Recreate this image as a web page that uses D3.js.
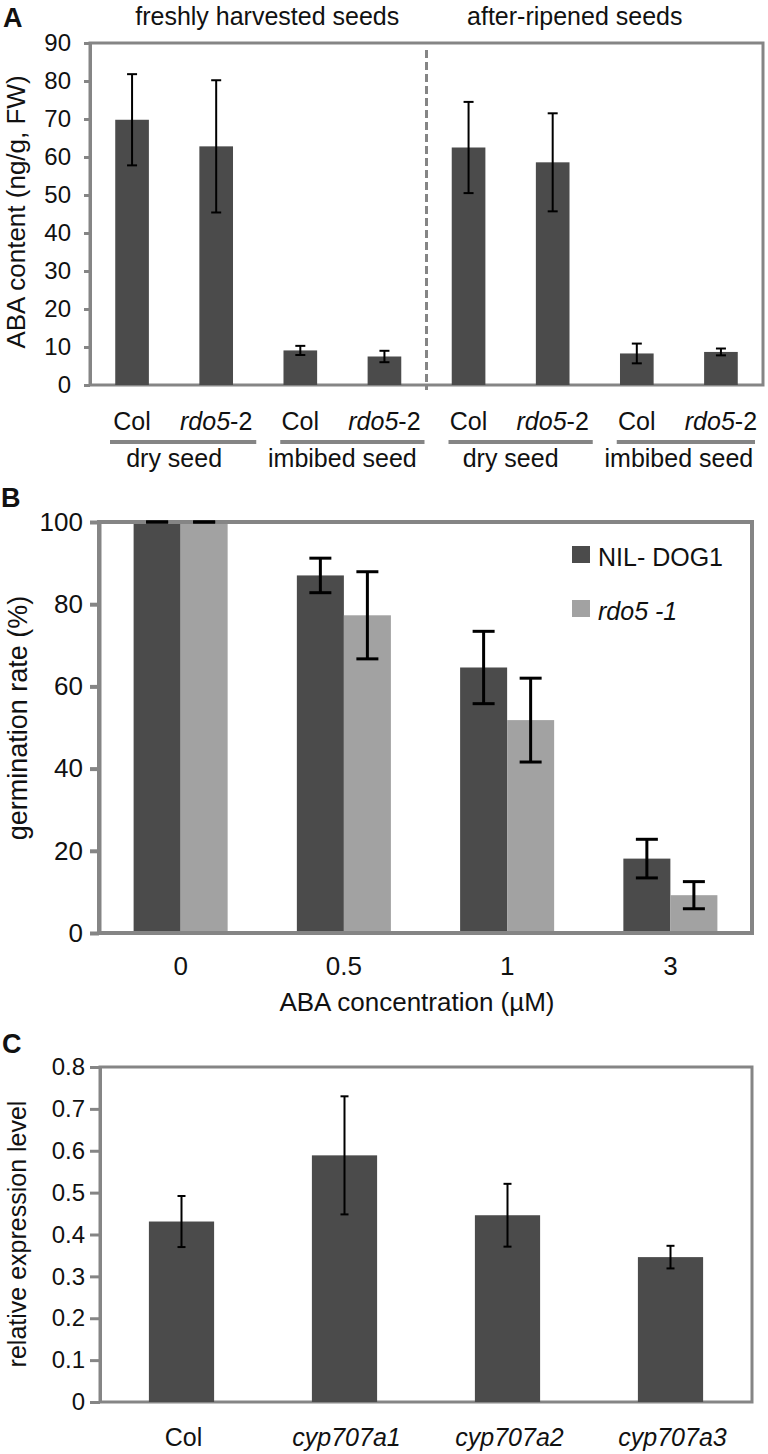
<!DOCTYPE html>
<html>
<head>
<meta charset="utf-8">
<script src="https://cdn.jsdelivr.net/npm/d3@7"></script>
<style>
  html, body { margin: 0; padding: 0; background: #fff; }
  svg { display: block; }
  text { font-family: "Liberation Sans", Arial, Helvetica, sans-serif; fill: #111; }
</style>
</head>
<body>
<svg id="chart" width="768" height="1454"></svg>
<script>
// ---------------- DATA ----------------
// Panel A
const groupsA = ["freshly harvested seeds", "after-ripened seeds"];
const tissuesA = ["dry seed", "imbibed seed", "dry seed", "imbibed seed"];
const genotypesA = ["Col", "rdo5-2", "Col", "rdo5-2", "Col", "rdo5-2", "Col", "rdo5-2"];
const valuesA = [69.8, 62.8, 9.1, 7.5, 62.5, 58.6, 8.3, 8.7];
const errorsA = [12.0, 17.4, 1.2, 1.5, 12.0, 12.9, 2.6, 0.9];
const ticksA = [0, 10, 20, 30, 40, 50, 60, 70, 80, 90];

// Panel B
const concentrationsB = ["0", "0.5", "1", "3"];
const seriesB = ["NIL- DOG1", "rdo5 -1"];
const valuesNIL = [100, 87.0, 64.6, 18.1];
const errorsNIL = [0, 4.2, 8.8, 4.7];
const valuesRdo51 = [100, 77.3, 51.8, 9.2];
const errorsRdo51 = [0, 10.6, 10.2, 3.3];
const ticksB = [0, 20, 40, 60, 80, 100];

// Panel C
const genotypesC = ["Col", "cyp707a1", "cyp707a2", "cyp707a3"];
const valuesC = [0.431, 0.589, 0.446, 0.346];
const errorsC = [0.061, 0.141, 0.075, 0.027];
const ticksC = [0, 0.1, 0.2, 0.3, 0.4, 0.5, 0.6, 0.7, 0.8];

// ---------------- STYLE ----------------
const DARK = "#4b4b4b", LIGHT = "#a2a2a2", FRAME = "#858585";
const svg = d3.select("#chart");

function panelLetter(t, x, y) {
  svg.append("text").attr("x", x).attr("y", y).attr("font-size", 27)
    .attr("font-weight", "bold").text(t);
}
function frame(x0, x1, y0, y1, w) {
  svg.append("rect").attr("x", x0).attr("y", y0).attr("width", x1 - x0).attr("height", y1 - y0)
    .attr("fill", "none").attr("stroke", FRAME).attr("stroke-width", w);
}
function yAxis(scale, x, ticks, size, pad, fmt, fs, w) {
  const g = svg.append("g").attr("transform", `translate(${x},0)`)
    .call(d3.axisLeft(scale).tickValues(ticks).tickSize(size).tickSizeOuter(0).tickPadding(pad).tickFormat(fmt));
  g.select(".domain").attr("stroke", FRAME).attr("stroke-width", w);
  g.selectAll(".tick line").attr("stroke", FRAME).attr("stroke-width", w);
  g.selectAll(".tick text").attr("font-size", fs).attr("fill", "#111")
    .attr("font-family", '"Liberation Sans", Arial, sans-serif');
  return g;
}
function yLabel(t, x, y, fs) {
  svg.append("text").attr("transform", `translate(${x},${y}) rotate(-90)`)
    .attr("text-anchor", "middle").attr("font-size", fs).text(t);
}
function errBars(data, xf, yScale, cap, w) {
  svg.append("g").selectAll("g").data(data).join("g").each(function (d) {
    const g = d3.select(this), cx = xf(d);
    const yh = yScale(d.v + d.e), yl = yScale(d.v - d.e);
    g.append("line").attr("x1", cx).attr("x2", cx).attr("y1", yh).attr("y2", yl)
      .attr("stroke", "#000").attr("stroke-width", w);
    [yh, yl].forEach(yy => g.append("line").attr("x1", cx - cap / 2).attr("x2", cx + cap / 2)
      .attr("y1", yy).attr("y2", yy).attr("stroke", "#000").attr("stroke-width", w));
  });
}
function genoLabel(sel, name) {
  const m = name.match(/^([a-z]+\d*)(-\d+)$/);
  if (m) {
    sel.append("tspan").attr("font-style", "italic").text(m[1]);
    sel.append("tspan").text(m[2]);
  } else sel.text(name);
}

// ================= PANEL A =================
const A = { l: 90, r: 763, t: 43, b: 385 };
const xA = d3.scaleBand().domain(d3.range(valuesA.length)).range([A.l, A.r]).paddingInner(0.6).paddingOuter(0.3);
const yA = d3.scaleLinear().domain([0, 90]).range([A.b, A.t]);
const dataA = valuesA.map((v, i) => ({ i, v, e: errorsA[i] }));

panelLetter("A", 3, 27);
frame(A.l, A.r, A.t, A.b, 3);
yAxis(yA, A.l, ticksA, 6, 13, d3.format("d"), 24, 3);

svg.append("g").selectAll("rect").data(dataA).join("rect")
  .attr("x", d => xA(d.i)).attr("width", xA.bandwidth())
  .attr("y", d => yA(d.v)).attr("height", d => yA(0) - yA(d.v))
  .attr("fill", DARK);
errBars(dataA, d => xA(d.i) + xA.bandwidth() / 2, yA, 10, 2);

// dashed separator between fresh and after-ripened
const sepX = (xA(3) + xA.bandwidth() + xA(4)) / 2;
svg.append("line").attr("x1", sepX).attr("x2", sepX).attr("y1", A.t + 7).attr("y2", A.b + 5)
  .attr("stroke", FRAME).attr("stroke-width", 3).attr("stroke-dasharray", "8,4");

// group titles
const titleX = [(A.l + sepX) / 2 + 9, (sepX + A.r) / 2 - 20];
groupsA.forEach((t, k) => {
  svg.append("text").attr("x", titleX[k]).attr("y", 25).attr("text-anchor", "middle")
    .attr("font-size", 25).text(t);
});

// genotype labels
genotypesA.forEach((g, i) => {
  const t = svg.append("text").attr("x", xA(i) + xA.bandwidth() / 2).attr("y", 430)
    .attr("text-anchor", "middle").attr("font-size", 25);
  genoLabel(t, g);
});
// tissue underline + labels
tissuesA.forEach((t, k) => {
  const s = xA(2 * k) - xA.step() * xA.paddingOuter() + 22 - (k === 0 ? 2 : 0);
  const e = Math.min(xA(2 * k + 1) + xA.bandwidth() + xA.step() * 0.3 - 2, A.r - 8);
  svg.append("line").attr("x1", s).attr("x2", e).attr("y1", 442).attr("y2", 442)
    .attr("stroke", FRAME).attr("stroke-width", 4);
  const cx = (xA(2 * k) + xA(2 * k + 1) + xA.bandwidth()) / 2;
  svg.append("text").attr("x", cx).attr("y", 467).attr("text-anchor", "middle")
    .attr("font-size", 25).text(t);
});
yLabel("ABA content (ng/g, FW)", 25, 212, 26);

// ================= PANEL B =================
const B = { l: 99, r: 752, t: 522, b: 933 };
const x0B = d3.scaleBand().domain(concentrationsB).range([B.l, B.r]).paddingInner(0.424).paddingOuter(0.212);
const x1B = d3.scaleBand().domain(seriesB).range([0, x0B.bandwidth()]).padding(0);
const yB = d3.scaleLinear().domain([0, 100]).range([B.b, B.t]);
const colorB = d3.scaleOrdinal().domain(seriesB).range([DARK, LIGHT]);
const dataB = [];
concentrationsB.forEach((c, i) => {
  dataB.push({ c, s: seriesB[0], v: valuesNIL[i], e: errorsNIL[i] });
  dataB.push({ c, s: seriesB[1], v: valuesRdo51[i], e: errorsRdo51[i] });
});

panelLetter("B", 1, 507);
svg.append("g").selectAll("rect").data(dataB).join("rect")
  .attr("x", d => x0B(d.c) + x1B(d.s)).attr("width", x1B.bandwidth())
  .attr("y", d => yB(d.v)).attr("height", d => yB(0) - yB(d.v))
  .attr("fill", d => colorB(d.s));
frame(B.l, B.r, B.t, B.b, 4);
yAxis(yB, B.l, ticksB, 9, 7, d3.format("d"), 26, 4);
errBars(dataB, d => x0B(d.c) + x1B(d.s) + x1B.bandwidth() / 2, yB, 22, 3);

concentrationsB.forEach(c => {
  svg.append("text").attr("x", x0B(c) + x0B.bandwidth() / 2).attr("y", 975)
    .attr("text-anchor", "middle").attr("font-size", 26).text(c);
});
svg.append("text").attr("x", 417).attr("y", 1011).attr("text-anchor", "middle")
  .attr("font-size", 26).text("ABA concentration (\u00B5M)");
yLabel("germination rate (%)", 27, 718, 27);

// legend
seriesB.forEach((s, i) => {
  const yy = 546 + i * 54;
  svg.append("rect").attr("x", 572).attr("y", yy).attr("width", 18).attr("height", 17).attr("fill", colorB(s));
  svg.append("text").attr("x", 598).attr("y", yy + 20).attr("font-size", 25)
    .attr("font-style", i === 1 ? "italic" : "normal").text(s);
});

// ================= PANEL C =================
const C = { l: 100, r: 752, t: 1067, b: 1402 };
const xC = d3.scaleBand().domain(genotypesC).range([C.l, C.r]).paddingInner(0.6).paddingOuter(0.3);
const yC = d3.scaleLinear().domain([0, 0.8]).range([C.b, C.t]);
const dataC = genotypesC.map((g, i) => ({ g, v: valuesC[i], e: errorsC[i] }));

panelLetter("C", 2, 1053);
frame(C.l, C.r, C.t, C.b, 3);
yAxis(yC, C.l, ticksC, 10, 5, d => d === 0 ? "0" : d3.format(".1f")(d), 24, 3);
svg.append("g").selectAll("rect").data(dataC).join("rect")
  .attr("x", d => xC(d.g)).attr("width", xC.bandwidth())
  .attr("y", d => yC(d.v)).attr("height", d => yC(0) - yC(d.v))
  .attr("fill", DARK);
errBars(dataC, d => xC(d.g) + xC.bandwidth() / 2, yC, 8, 2);

genotypesC.forEach(g => {
  svg.append("text").attr("x", xC(g) + xC.bandwidth() / 2 + 2).attr("y", 1446)
    .attr("text-anchor", "middle").attr("font-size", 25)
    .attr("font-style", g === "Col" ? "normal" : "italic").text(g);
});
yLabel("relative expression level", 26, 1234, 25);
</script>
</body>
</html>
